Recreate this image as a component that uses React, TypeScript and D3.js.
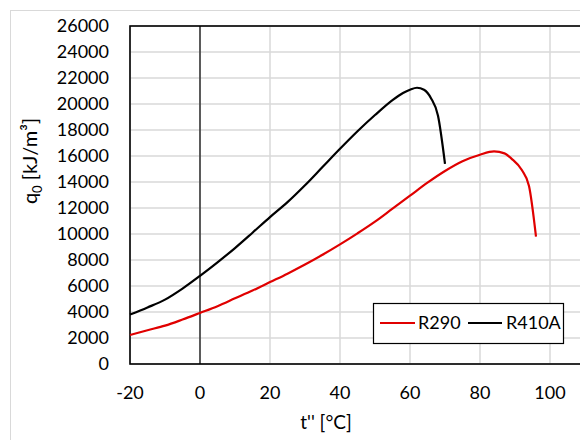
import React from "react";
import * as d3 from "d3";

// Evaporation temperature t'' [°C] and volumetric cooling capacity q0 [kJ/m³]
const r290T = [-20, -15, -10, -5, 0, 5, 10, 15, 20, 25, 30, 35, 40, 45, 50, 55, 60, 65, 70, 75, 80, 84, 87, 89, 92, 94, 96];
const r290Q = [2230, 2600, 2950, 3420, 3930, 4450, 5050, 5650, 6300, 6950, 7650, 8400, 9200, 10050, 10950, 11950, 12950, 13950, 14850, 15600, 16100, 16350, 16200, 15800, 14900, 13700, 9800];

const r410aT = [-20, -15, -10, -5, 0, 5, 10, 15, 20, 25, 30, 35, 40, 45, 50, 55, 58, 60, 62, 64, 66, 68, 70];
const r410aQ = [3800, 4350, 4950, 5800, 6780, 7820, 8920, 10100, 11300, 12450, 13750, 15150, 16550, 17900, 19150, 20300, 20850, 21100, 21250, 21100, 20450, 19100, 15400];

const xTicks = [-20, 0, 20, 40, 60, 80, 100];
const yTicks = [0, 2000, 4000, 6000, 8000, 10000, 12000, 14000, 16000, 18000, 20000, 22000, 24000, 26000];

const seriesNames = ["R290", "R410A"];
const seriesColors = ["#e00000", "#000000"];

const W = 580;
const H = 440;
const FONT = "Lato, 'Open Sans', sans-serif";

export default function App() {
  const x = d3.scaleLinear().domain([-20, 120]).range([130, 620]);
  const y = d3.scaleLinear().domain([0, 26000]).range([364, 26]);

  const line = d3
    .line<[number, number]>()
    .x((d) => x(d[0]))
    .y((d) => y(d[1]))
    .curve(d3.curveMonotoneX);

  const series = [
    r290T.map((t, i) => [t, r290Q[i]] as [number, number]),
    r410aT.map((t, i) => [t, r410aQ[i]] as [number, number]),
  ];

  const gridX = d3.range(-20, 121, 20);

  return (
    <div style={{ position: "absolute", left: 0, top: 0 }}>
      <svg width={W} height={H} style={{ display: "block", background: "#fff" }} fontFamily={FONT}>
        <rect x={10.5} y={10.5} width={700} height={600} fill="#fff" stroke="#d9d9d9" strokeWidth={1} />

        {/* gridlines */}
        {yTicks.map((v) => (
          <line key={"gy" + v} x1={x(-20)} x2={x(120)} y1={y(v)} y2={y(v)} stroke="#d9d9d9" strokeWidth={1.5} />
        ))}
        {gridX.map((v) => (
          <line key={"gx" + v} x1={x(v)} x2={x(v)} y1={y(0)} y2={y(26000)} stroke="#d9d9d9" strokeWidth={1.5} />
        ))}

        {/* plot frame */}
        <rect x={x(-20)} y={y(26000)} width={x(120) - x(-20)} height={y(0) - y(26000)} fill="none" stroke="#000" strokeWidth={1.6} />
        {/* value axis crossing at t'' = 0 */}
        <line x1={x(0)} x2={x(0)} y1={y(0)} y2={y(26000)} stroke="#000" strokeWidth={1.2} />

        {/* series */}
        {series.map((s, i) => (
          <path key={seriesNames[i]} d={line(s) || ""} fill="none" stroke={seriesColors[i]} strokeWidth={2.2} strokeLinejoin="round" />
        ))}

        {/* y tick labels */}
        {yTicks.map((v) => (
          <text key={"ty" + v} x={109} y={y(v)} dy="0.35em" textAnchor="end" fontSize={18} fill="#000">
            {v}
          </text>
        ))}
        {/* x tick labels */}
        {xTicks.map((v) => (
          <text key={"tx" + v} x={x(v)} y={393} dy="0.35em" textAnchor="middle" fontSize={18} fill="#000">
            {v}
          </text>
        ))}

        {/* axis titles */}
        <text x={326} y={422} dy="0.35em" textAnchor="middle" fontSize={19} fill="#000">
          t'' [°C]
        </text>
        <text transform="translate(30,161) rotate(-90)" textAnchor="middle" dy="0.35em" fontSize={20} fill="#000">
          q<tspan fontSize={13} dy="5">0</tspan>
          <tspan dy="-5"> [kJ/m³]</tspan>
        </text>

        {/* legend */}
        <rect x={373.5} y={303.5} width={190} height={40} fill="#fff" stroke="#000" strokeWidth={1.2} />
        <line x1={380} x2={415} y1={323} y2={323} stroke={seriesColors[0]} strokeWidth={2.2} />
        <text x={418} y={323} dy="0.35em" fontSize={18} fill="#000">{seriesNames[0]}</text>
        <line x1={468} x2={502} y1={323} y2={323} stroke={seriesColors[1]} strokeWidth={2.2} />
        <text x={506} y={323} dy="0.35em" fontSize={18} fill="#000">{seriesNames[1]}</text>
      </svg>
    </div>
  );
}
